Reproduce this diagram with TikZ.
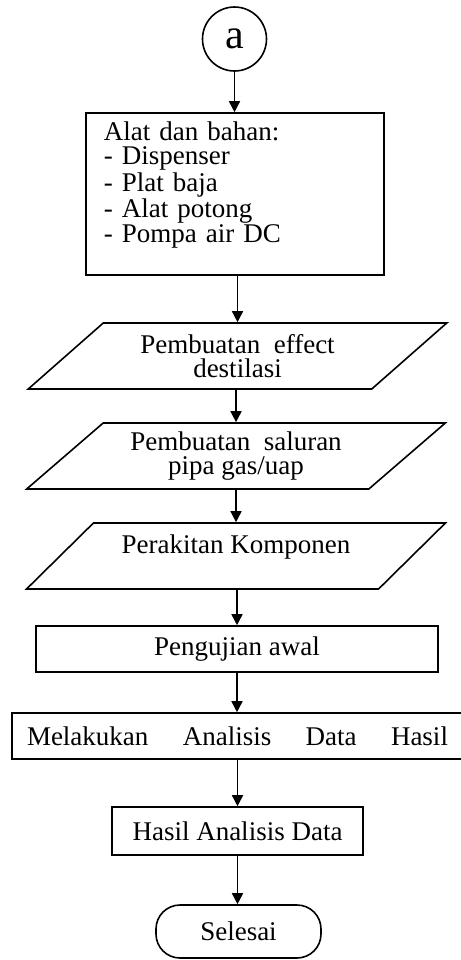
\documentclass[tikz,border=0pt]{standalone}
\usepackage{fontspec}
\setmainfont{Liberation Serif}
\usetikzlibrary{shapes.geometric,arrows.meta}

\begin{document}
\begin{tikzpicture}[x=0.5pt,y=-0.5pt,line width=0.8pt,
  every node/.style={font=\fontsize{13.5}{12.2}\selectfont},
  kotak/.style={draw,rectangle,inner sep=0pt},
  jajar/.style={draw,trapezium,trapezium left angle=38.8,trapezium right angle=141.2,
    trapezium stretches=true,minimum width=209.5pt,minimum height=33pt,inner sep=0pt,align=center},
  panah/.style={-{Triangle[width=5.5pt,length=5.5pt]}}]
\useasboundingbox (0,0) rectangle (461,960);
% simbol awal
\node[draw,circle,minimum size=32pt,inner sep=0pt,font=\fontsize{21}{24}\selectfont] (a) at (234.5,39) {a};
\node[kotak,minimum width=149pt,minimum height=81pt,text width=131pt,align=left] (alat) at (235,194)
  {Alat dan bahan:\\- Dispenser\\- Plat baja\\- Alat potong\\- Pompa air DC\\ \mbox{}};
% proses pembuatan
\node[jajar] (effect) at (237.5,356) {Pembuatan \ effect\\destilasi};
\node[jajar] (saluran) at (236,456) {Pembuatan \ saluran\\pipa gas/uap};
\node[jajar] (rakit) at (236,556) {Perakitan Komponen\\ \mbox{}};
\node[kotak,minimum width=201pt,minimum height=23pt] (uji) at (237,649) {Pengujian awal};
\node[kotak,minimum width=225.5pt,minimum height=23pt,text width=210.5pt,align=left] (analisis) at (237.5,736)
  {Melakukan\hfill Analisis\hfill Data\hfill Hasil};
\node[kotak,minimum width=125.5pt,minimum height=24pt] (hasil) at (237.5,831) {Hasil Analisis Data};
\node[kotak,rounded corners=12pt,minimum width=82.5pt,minimum height=26.5pt] (selesai) at (238.5,931.5) {Selesai};
% panah
\draw[panah] (a.south) -- (a.south |- alat.north);
\draw[panah] (effect.north |- alat.south) -- (effect.north);
\draw[panah] (saluran.north |- effect.south) -- (saluran.north);
\draw[panah] (rakit.north |- saluran.south) -- (rakit.north);
\draw[panah] (uji.north |- rakit.south) -- (uji.north);
\draw[panah] (uji.south) -- (uji.south |- analisis.north);
\draw[panah] (hasil.north |- analisis.south) -- (hasil.north);
\draw[panah] (hasil.south) -- (hasil.south |- selesai.north);
\end{tikzpicture}
\end{document}
